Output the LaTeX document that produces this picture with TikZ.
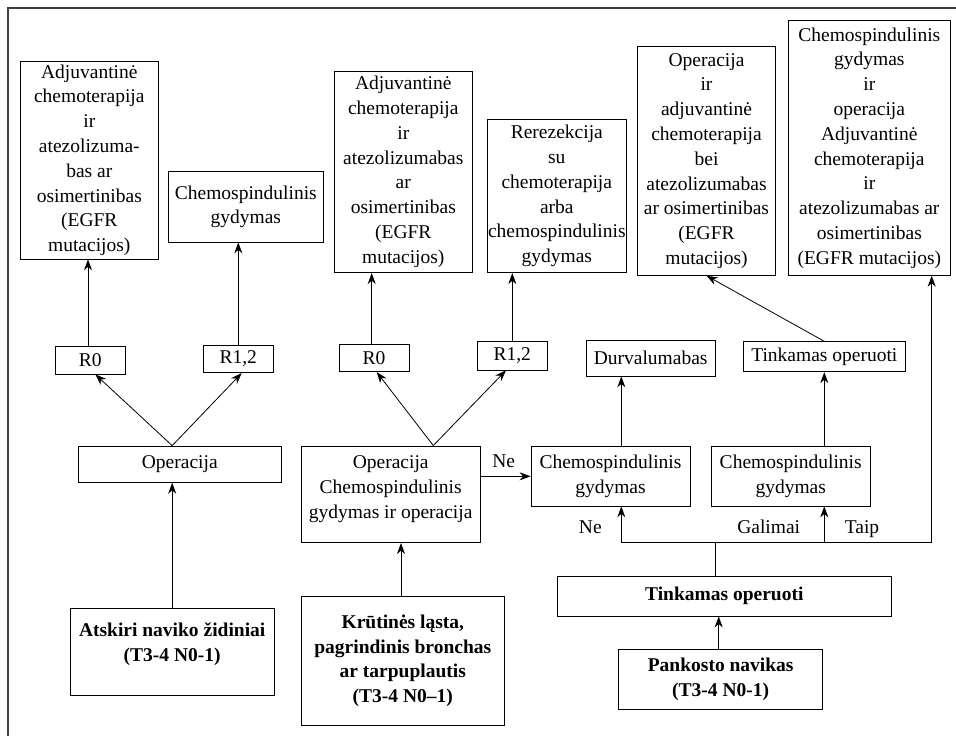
\documentclass[tikz,border=0pt]{standalone}
\usepackage{fontspec}
\setmainfont{Liberation Serif}
\usetikzlibrary{arrows.meta,calc}
\newcommand\boxfont{\fontsize{19.5}{24.8}\selectfont}
\begin{document}
\begin{tikzpicture}[x=1pt,y=-1pt,
  box/.style={draw, line width=0.8pt, align=center, inner sep=0pt, font=\boxfont},
  bbox/.style={box, font=\boxfont\bfseries},
  sz/.style 2 args={minimum width=#1, minimum height=#2},
  arr/.style={line width=0.8pt, -{Stealth[length=11pt,width=8pt,inset=3.5pt]}},
  link/.style={line width=0.8pt},
  lbl/.style={font=\boxfont, inner sep=0pt, anchor=base},
  frame/.style={line width=1.2pt, black!75}]
\useasboundingbox (0,0) rectangle (956,736);
\draw[frame] (8,736) -- (8,8) -- (956,8);

% top row of outcome boxes
\node[box, sz={137.3}{197.3}] (adjL) at (89.3,160.3)
  {Adjuvantinė\\chemoterapija\\ir\\atezolizuma-\\bas ar\\osimertinibas\\(EGFR\\mutacijos)};
\node[box, sz={154.3}{70.3}] (chemL) at (245.8,206.8)
  {Chemospindulinis\\gydymas};
\node[box, sz={138.7}{201.7}] (adjM) at (403.3,171.8)
  {Adjuvantinė\\chemoterapija\\ir\\atezolizumabas\\ar\\osimertinibas\\(EGFR\\mutacijos)};
\node[box, sz={138.3}{153.4}] (rerez) at (556.8,196)
  {Rerezekcija\\su\\chemoterapija\\arba\\chemospindulinis\\gydymas};
\node[box, sz={137.6}{228.6}] (opadj) at (706.5,161)
  {Operacija\\ir\\adjuvantinė\\chemoterapija\\bei\\atezolizumabas\\ar osimertinibas\\(EGFR\\mutacijos)};
\node[box, sz={161.3}{254.6}] (chemop) at (869.3,148)
  {Chemospindulinis\\gydymas\\ir\\operacija\\Adjuvantinė\\chemoterapija\\ir\\atezolizumabas ar\\osimertinibas\\(EGFR mutacijos)};

% resection margin boxes and intermediate results
\node[box, sz={70}{27.3}] (r0L) at (90.3,360.3) {R0};
\node[box, sz={70}{27.7}] (r12L) at (238.3,358.8) {R1,2};
\node[box, sz={70}{27.7}] (r0M) at (374,357.8) {R0};
\node[box, sz={69.3}{28.3}] (r12M) at (512.3,355.8) {R1,2};
\node[box, sz={129.3}{36}] (durv) at (650.7,358) {Durvalumabas};
\node[box, sz={161.3}{30}] (tinkS) at (824.3,356.7) {Tinkamas operuoti};

% treatment boxes
\node[box, sz={203.7}{36.3}] (opL) at (179.8,464.2) {Operacija};
\node[box, sz={179.3}{96.7}] (opchem) at (390.7,494.3)
  {Operacija\\Chemospindulinis\\gydymas ir operacija\\[-10pt]\mbox{}};
\node[box, sz={159}{59.3}] (chem1) at (610.5,476.3) {Chemospindulinis\\gydymas};
\node[box, sz={159.3}{59.3}] (chem2) at (790.7,476.3) {Chemospindulinis\\gydymas};

% entry boxes
\node[bbox, sz={203.7}{86.7}] (atsk) at (172.2,651.7)
  {Atskiri naviko židiniai\\(T3-4 N0-1)\\[-5pt]\mbox{}};
\node[bbox, sz={203.7}{129.7}] (krut) at (402.8,660.8)
  {Krūtinės ląsta,\\pagrindinis bronchas\\ar tarpuplautis\\(T3-4 N0–1)};
\node[bbox, sz={334.7}{40}] (tinkB) at (724.3,596) {Tinkamas operuoti};
\node[bbox, sz={204}{60}] (pank) at (720.7,679.3) {Pankosto navikas\\(T3-4 N0-1)};

% left branch
\coordinate (apL) at (atsk.north |- opL.north);
\draw[arr] (atsk.north) -- (opL.south -| atsk.north);
\draw[arr] (apL) -- ($(r0L.south)+(5,0)$);
\draw[arr] (apL) -- ($(r12L.south)+(3.4,0)$);
\draw[arr] ($(r0L.north)+(-2.3,0)$) -- ($(r0L.north |- adjL.south)+(-2.3,0)$);
\draw[arr] (r12L.north) -- (r12L.north |- chemL.south);

% middle branch
\coordinate (apM) at ($(opchem.north)+(42.6,0)$);
\draw[arr] (krut.north -| 401,0) -- (opchem.south -| 401,0);
\draw[arr] (apM) -- ($(r0M.south)+(2.7,0)$);
\draw[arr] (apM) -- ($(r12M.south)+(-6.3,0)$);
\draw[arr] ($(r0M.north)+(-2.3,0)$) -- ($(r0M.north |- adjM.south)+(-2.3,0)$);
\draw[arr] (r12M.north) -- (r12M.north |- rerez.south);
\draw[arr] (opchem.east |- chem1.west) -- (chem1.west);
\node[lbl] (ne1) at (503.7,467.3) {Ne};

% right branch
\coordinate (c1) at ($(chem1.north)+(10.8,0)$);
\coordinate (jn) at ($(tinkB.north)+(-9,-33.3)$);
\draw[arr] (pank.north -| 718.7,0) -- (tinkB.south -| 718.7,0);
\draw[link] (tinkB.north -| jn) -- (jn);
\draw[arr] (jn) -| (c1 |- chem1.south);
\draw[arr] (jn) -| (tinkS.south |- chem2.south);
\draw[arr] (jn) -| ($(chemop.south)+(62.4,0)$);
\draw[arr] (c1) -- (c1 |- durv.south);
\draw[arr] (chem2.north -| tinkS.south) -- (tinkS.south);
\draw[arr] (tinkS.north) -- (opadj.south);
\node[lbl] (ne2) at (590.3,533.3) {Ne};
\node[lbl] (gal) at (768.7,533.3) {Galimai};
\node[lbl] (taip) at (862,533.3) {Taip};
\end{tikzpicture}
\end{document}
